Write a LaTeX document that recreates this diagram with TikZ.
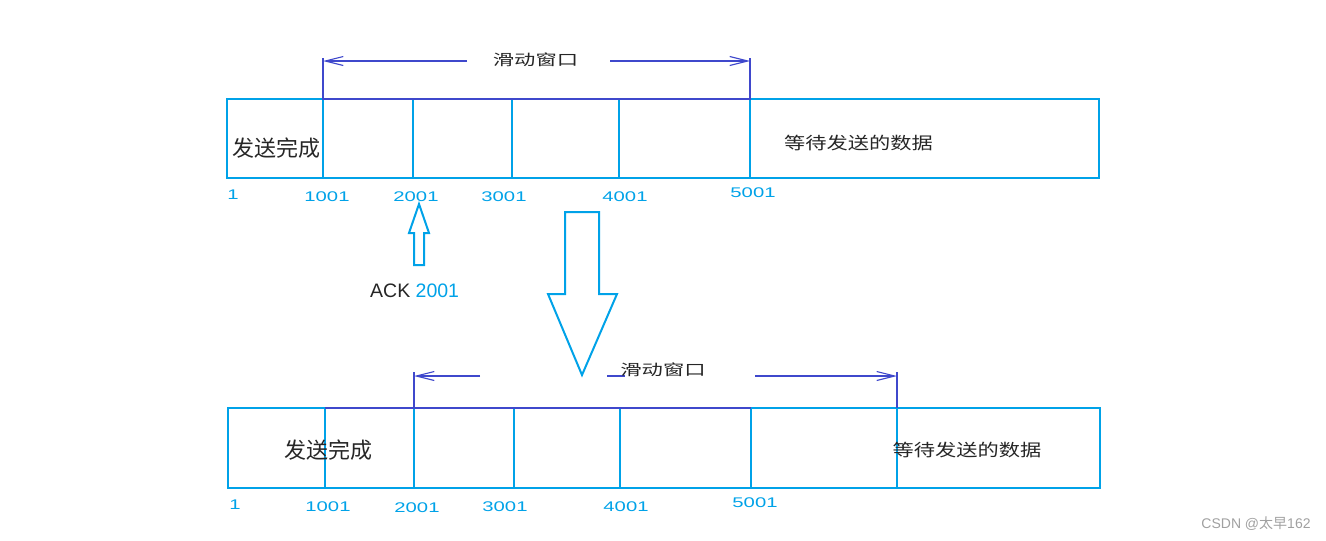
\documentclass[tikz,border=0pt]{standalone}
\usepackage{fontspec}
\setmainfont{Liberation Sans}
\newfontfamily\cjk{Noto Sans CJK SC}
\usetikzlibrary{arrows.meta}
\definecolor{cyanc}{HTML}{00A2E8}
\definecolor{purp}{HTML}{3F48CC}
\definecolor{wmgray}{HTML}{A0A0A0}
\newcommand\hstretch[2]{\scalebox{#1}[1]{#2}}
\tikzset{
  cell/.style={draw=cyanc, line width=2.4pt, inner sep=0pt, outer sep=0pt, minimum height=79pt, fill=none},
  winline/.style={draw=purp, line width=2pt},
  winarrow/.style={draw=purp, line width=1.1pt, -{Straight Barb[length=18pt,width=9pt]}},
  numlbl/.style={text=cyanc, inner sep=0pt, font=\fontsize{14pt}{16pt}\selectfont},
  bigcjk/.style={inner sep=0pt, text=black!85, font=\cjk\fontsize{22pt}{24pt}\selectfont},
  waitcjk/.style={inner sep=0pt, text=black!85, font=\cjk\fontsize{17pt}{19pt}\selectfont},
  wincjk/.style={inner sep=0pt, text=black!85, font=\cjk\fontsize{15pt}{17pt}\selectfont},
  hollow/.style={draw=cyanc, line width=2pt, line join=miter}
}
\begin{document}
\begin{tikzpicture}[x=1pt,y=-1pt]
\useasboundingbox (0,0) rectangle (1326,541);
% ---------------- top row ----------------
\node[cell, minimum width=96pt]  (t0) at (275,138.5) {};
\node[cell, minimum width=90pt]  (t1) at (368,138.5) {};
\node[cell, minimum width=99pt]  (t2) at (462.5,138.5) {};
\node[cell, minimum width=107pt] (t3) at (565.5,138.5) {};
\node[cell, minimum width=131pt] (t4) at (684.5,138.5) {};
\node[cell, minimum width=349pt] (t5) at (924.5,138.5) {};
% window bracket top
\coordinate (wTL) at (323,58);
\coordinate (wTR) at (750,58);
\draw[winline] (wTL) -- (t1.north west) -- (t4.north east) -- (wTR);
\coordinate (aTLs) at (467,61);
\coordinate (aTLe) at (323,61);
\coordinate (aTRs) at (610,61);
\coordinate (aTRe) at (750,61);
\draw[winarrow] (aTLs) -- (aTLe);
\draw[winarrow] (aTRs) -- (aTRe);
\node[wincjk] (wt) at (535.5,60) {\hstretch{1.42}{滑动窗口}};
\node[bigcjk] (done1) at (276.5,148) {发送完成};
\node[waitcjk] (wait1) at (858.5,143) {\hstretch{1.25}{等待发送的数据}};
% numbers top
\node[numlbl] (n1a) at (233,195) {\hstretch{1.45}{1}};
\node[numlbl] (n2a) at (327,197) {\hstretch{1.45}{1001}};
\node[numlbl] (n3a) at (416,197) {\hstretch{1.45}{2001}};
\node[numlbl] (n4a) at (504,197) {\hstretch{1.45}{3001}};
\node[numlbl] (n5a) at (625,197) {\hstretch{1.45}{4001}};
\node[numlbl] (n6a) at (753,193) {\hstretch{1.45}{5001}};
% ACK arrow
\draw[hollow] (419,204) -- (429,233) -- (424,233) -- (424,265) -- (414,265) -- (414,233) -- (409,233) -- cycle;
\node[inner sep=0pt, anchor=west, font=\fontsize{19.5pt}{22pt}\selectfont, text=black!85] (ack) at (370,291) {ACK \textcolor{cyanc}{2001}};
% big down arrow
\draw[hollow] (565,212) -- (599,212) -- (599,294) -- (617,294) -- (582,375) -- (548,294) -- (565,294) -- cycle;
% ---------------- bottom row ----------------
\node[cell, minimum height=80pt, minimum width=97pt]  (b0) at (276.5,448) {};
\node[cell, minimum height=80pt, minimum width=89pt]  (b1) at (369.5,448) {};
\node[cell, minimum height=80pt, minimum width=100pt] (b2) at (464,448) {};
\node[cell, minimum height=80pt, minimum width=106pt] (b3) at (567,448) {};
\node[cell, minimum height=80pt, minimum width=131pt] (b4) at (685.5,448) {};
\node[cell, minimum height=80pt, minimum width=146pt] (b5) at (824,448) {};
\node[cell, minimum height=80pt, minimum width=203pt] (b6) at (998.5,448) {};
\draw[winline] (b1.north west) -- (b4.north east);
\coordinate (wBL) at (414,372);
\coordinate (wBR) at (897,372);
\draw[winline] (wBL) -- (b2.north west);
\draw[winline] (wBR) -- (b6.north west);
\coordinate (aBLs) at (480,376);
\coordinate (aBLe) at (414,376);
\coordinate (aBRs) at (755,376);
\coordinate (aBRe) at (897,376);
\coordinate (sBa) at (607,376);
\coordinate (sBb) at (625,376);
\draw[winarrow] (aBLs) -- (aBLe);
\draw[winarrow] (aBRs) -- (aBRe);
\draw[draw=purp, line width=1.1pt] (sBa) -- (sBb);
\node[wincjk] (wb) at (663,370) {\hstretch{1.42}{滑动窗口}};
\node[bigcjk] (done2) at (328,450) {发送完成};
\node[waitcjk] (wait2) at (967,450) {\hstretch{1.25}{等待发送的数据}};
% numbers bottom
\node[numlbl] (n1b) at (235,505) {\hstretch{1.45}{1}};
\node[numlbl] (n2b) at (328,507) {\hstretch{1.45}{1001}};
\node[numlbl] (n3b) at (417,508) {\hstretch{1.45}{2001}};
\node[numlbl] (n4b) at (505,507) {\hstretch{1.45}{3001}};
\node[numlbl] (n5b) at (626,507) {\hstretch{1.45}{4001}};
\node[numlbl] (n6b) at (755,503) {\hstretch{1.45}{5001}};
% watermark
\node[inner sep=0pt, text=wmgray, font=\fontsize{14pt}{16pt}\selectfont] (wm) at (1256,524) {CSDN @{\cjk 太早}162};
\end{tikzpicture}
\end{document}
